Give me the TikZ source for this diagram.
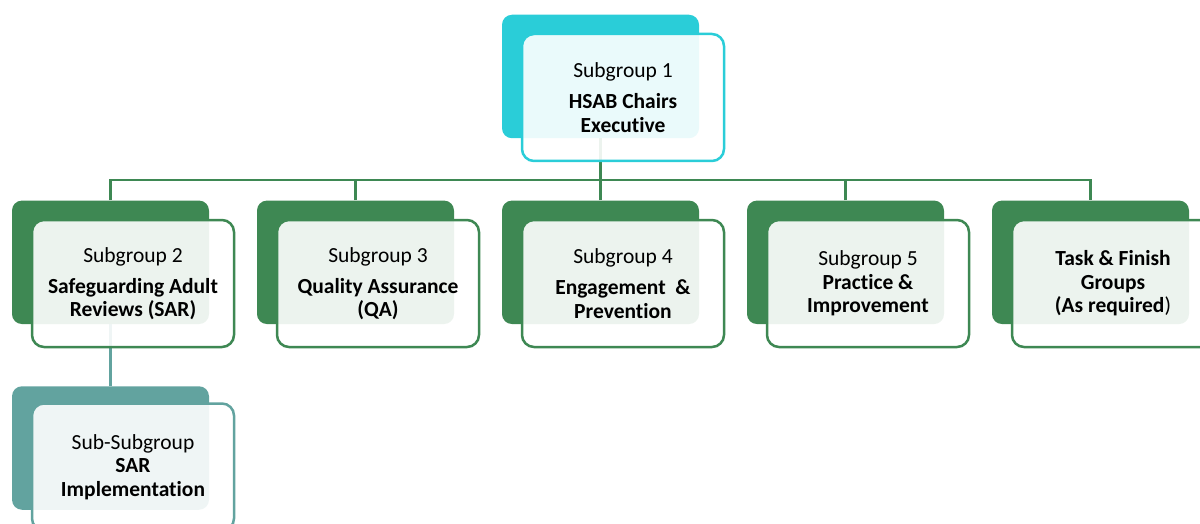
\documentclass[tikz,border=0pt]{standalone}
\usepackage{fontspec}
\setmainfont{Carlito}[Ligatures=NoCommon]
\definecolor{grn}{RGB}{62,136,83}
\definecolor{tealc}{RGB}{98,163,159}
\definecolor{cyanc}{RGB}{42,205,216}
\tikzset{
  back/.style={rounded corners=10pt, minimum width=197pt, minimum height=123.5pt, inner sep=0pt, fill=#1},
  front/.style={rounded corners=12pt, draw=#1, fill=white, fill opacity=0.9, text opacity=1,
    line width=2.5pt, minimum width=202pt, minimum height=127pt, inner sep=0pt, align=center,
    font=\fontsize{21.5}{23.5}\selectfont},
  conn/.style={line width=2.6pt, draw=#1},
}
\newcommand{\hd}[1]{#1\\[7.5pt]}
\begin{document}
\begin{tikzpicture}[x=1pt,y=-1pt]
\useasboundingbox (0,0) rectangle (1200,524);
\clip (0,0) rectangle (1200,524);
\coordinate (bar) at (0,180);
% back rectangles
\node[back=cyanc] (b1) at (600.5,76.5) {};
\node[back=grn] (b2) at (110.5,262.3) {};
\node[back=grn] (b3) at (355.5,262.3) {};
\node[back=grn] (b4) at (600.5,262.3) {};
\node[back=grn] (b5) at (845.5,262.3) {};
\node[back=grn] (b6) at (1090.5,262.3) {};
\node[back=tealc] (b7) at (110.5,448) {};
% connectors
\draw[conn=grn] (b1.south) -- (b1.south |- bar);
\draw[conn=grn] (b2.north) |- (b6.north |- bar) -- (b6.north);
\draw[conn=grn] (b3.north) -- (b3.north |- bar);
\draw[conn=grn] (b4.north) -- (b4.north |- bar);
\draw[conn=grn] (b5.north) -- (b5.north |- bar);
\draw[conn=tealc] (b2.south) -- (b7.north);
% front rectangles with text
\node[front=cyanc] (f1) at (623,97.5) {\hd{Subgroup 1}\textbf{HSAB Chairs}\\\textbf{Executive}};
\node[front=grn] (f2) at (133,283.5) {\hd{Subgroup 2}\textbf{Safeguarding Adult}\\\textbf{Reviews (SAR)}};
\node[front=grn] (f3) at (378,283.5) {\hd{Subgroup 3}\textbf{Quality Assurance}\\\textbf{(QA)}};
\node[front=grn] (f4) at (623,283.5) {\hd{Subgroup 4}\textbf{Engagement\ \ \&}\\\textbf{Prevention}};
\node[front=grn] (f5) at (868,283.5) {Subgroup 5\\\textbf{Practice \&}\\\textbf{Improvement}};
\node[front=grn] (f6) at (1113,283.5) {\textbf{Task \& Finish}\\\textbf{Groups}\\\textbf{(As required})};
\node[front=tealc] (f7) at (133,467) {Sub-Subgroup\\\textbf{SAR}\\\textbf{Implementation}};
\end{tikzpicture}
\end{document}
